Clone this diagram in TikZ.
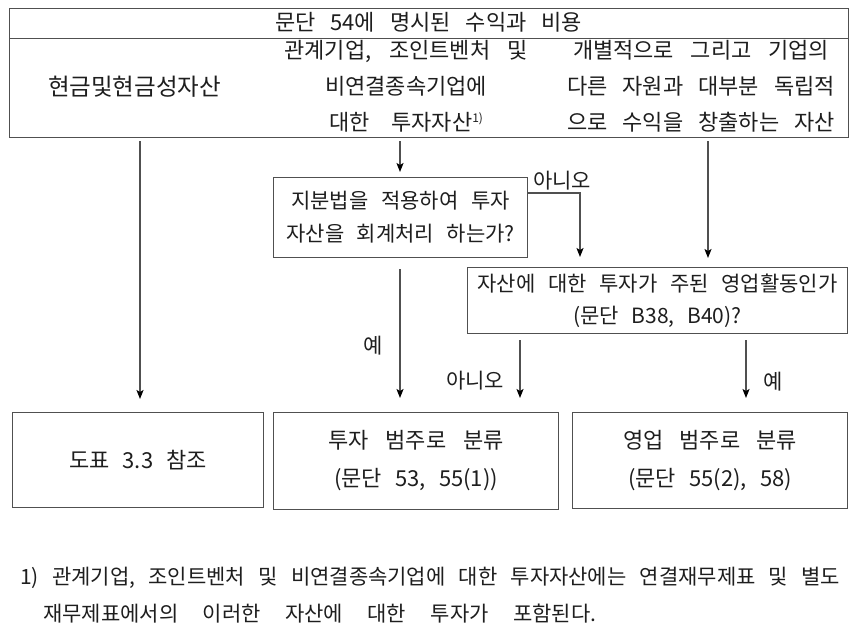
\documentclass[tikz,border=0pt]{standalone}
\usepackage{fontspec}
\setmainfont{Noto Sans CJK KR}
\usetikzlibrary{arrows.meta}
\definecolor{txt}{HTML}{1E1E1E}
\definecolor{linec}{HTML}{505050}
\newsavebox\jlbox
\newcommand{\jl}[2]{{\spaceskip=0.6em plus 1fil minus 0.05em\relax\sbox\jlbox{#2}\ifdim\wd\jlbox<#1\relax\makebox[#1][s]{#2}\else\usebox\jlbox\fi}}
\begin{document}
\begin{tikzpicture}[x=1pt,y=-1pt,
  box/.style={draw=linec, line width=1.1pt, anchor=north west, inner sep=0pt, align=center, text=txt},
  txtn/.style={inner sep=0pt, align=center, text=txt},
  arr/.style={draw=linec, line width=1.2pt, -{Stealth[length=9pt,width=7pt,inset=2pt,color=black,fill=black]}},
  lbl/.style={inner sep=0pt, text=txt, font=\fontsize{21}{24}\selectfont}]
\useasboundingbox[fill=white] (0,0) rectangle (860,632);

% top table
\node[box, minimum width=839pt, minimum height=30pt] (hdr) at (9,8) {};
\node[box, minimum width=839pt, minimum height=99pt] (tbl) at (9,38) {};
\node[txtn, font=\fontsize{22}{26}\selectfont] (h) at (428.5,22) {\jl{307pt}{문단 54에 명시된 수익과 비용}};
\node[txtn, font=\fontsize{23.5}{26}\selectfont] (c1) at (134.5,87) {현금및현금성자산};
\node[txtn, font=\fontsize{22}{36}\selectfont] (c2) at (406,86) {\jl{243pt}{관계기업, 조인트벤처 및}\\비연결종속기업에\\\jl{154pt}{대한 투자자산\raisebox{8pt}{\fontsize{12}{12}\selectfont 1)}}};
\node[txtn, font=\fontsize{22}{36}\selectfont] (c3) at (701,86) {\jl{256pt}{개별적으로 그리고 기업의}\\\jl{268pt}{다른 자원과 대부분 독립적}\\\jl{268pt}{으로 수익을 창출하는 자산}};

% decision boxes
\node[box, minimum width=254pt, minimum height=80pt, font=\fontsize{21}{33}\selectfont] (q1) at (273,177)
  {\jl{216pt}{지분법을 적용하여 투자}\\\jl{227pt}{자산을 회계처리 하는가?}};
\node[box, minimum width=380pt, minimum height=66pt, font=\fontsize{21}{32}\selectfont] (q2) at (467,267)
  {\jl{360pt}{자산에 대한 투자가 주된 영업활동인가}\\\jl{150pt}{(문단 B38, B40)?}};

% result boxes
\node[box, minimum width=251pt, minimum height=95pt, font=\fontsize{22}{26}\selectfont] (boxA) at (12,412)
  {\jl{137pt}{도표 3.3 참조}};
\node[box, minimum width=285pt, minimum height=97pt, font=\fontsize{22}{38}\selectfont] (boxB) at (273,412)
  {\jl{175pt}{투자 범주로 분류}\\\jl{156pt}{(문단 53, 55(1))}};
\node[box, minimum width=275pt, minimum height=96pt, font=\fontsize{22}{38}\selectfont] (boxC) at (572,412)
  {\jl{174pt}{영업 범주로 분류}\\\jl{158pt}{(문단 55(2), 58)}};

% connector positions
\coordinate (xA) at (140,0);
\coordinate (xB) at (400,0);
\coordinate (xC) at (708,0);
\coordinate (xD) at (580,0);
\coordinate (xE) at (520,0);
\coordinate (xF) at (746,0);
\coordinate (yN) at (0,193);

\draw[arr, shorten <=3pt, shorten >=13pt] (tbl.south -| xA) -- (boxA.north -| xA);
\draw[arr, shorten <=3pt, shorten >=5pt] (tbl.south -| xB) -- (q1.north -| xB);
\draw[arr, shorten <=3pt, shorten >=9pt] (tbl.south -| xC) -- (q2.north -| xC);
\draw[arr, shorten >=10pt] (q1.east |- yN) -| (q2.north -| xD);
\draw[arr, shorten <=11pt, shorten >=14pt] (q1.south -| xB) -- (boxB.north -| xB);
\draw[arr, shorten <=6pt, shorten >=14pt] (q2.south -| xE) -- (boxB.north -| xE);
\draw[arr, shorten <=6pt, shorten >=14pt] (q2.south -| xF) -- (boxC.north -| xF);

% labels
\node[lbl] (no1) at (562,181) {아니오};
\node[lbl] (yes1) at (373,346) {예};
\node[lbl] (no2) at (475,381) {아니오};
\node[lbl] (yes2) at (773,382) {예};

% footnote
\node[txtn, anchor=west, font=\fontsize{21}{26}\selectfont] (fn1) at (20,578)
  {\jl{820pt}{1) 관계기업, 조인트벤처 및 비연결종속기업에 대한 투자자산에는 연결재무제표 및 별도}};
\node[txtn, anchor=west, font=\fontsize{21}{26}\selectfont] (fn2) at (43,614)
  {\jl{553pt}{재무제표에서의 이러한 자산에 대한 투자가 포함된다.}};
\end{tikzpicture}
\end{document}
